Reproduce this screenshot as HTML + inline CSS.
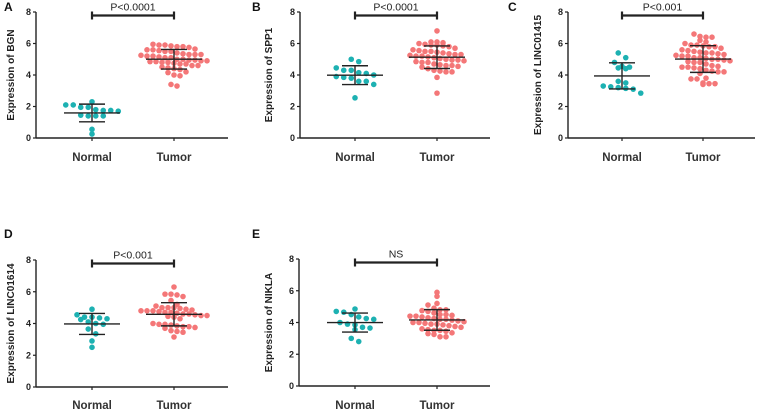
<!DOCTYPE html>
<html><head><meta charset="utf-8"><style>
html,body{margin:0;padding:0;background:#fff}
svg{display:block;font-family:"Liberation Sans",Arial,sans-serif}
</style></head><body>
<svg id="fig" width="760" height="416" viewBox="0 0 760 416"></svg>
<script>
const groupNames = ["Normal", "Tumor"];
const yTicks = [0, 2, 4, 6, 8];
const genes = ["BGN", "SPP1", "LINC01415", "LINC01614", "NIKLA"];
const panelLetters = ["A", "B", "C", "D", "E"];
const pLabels = ["P<0.0001", "P<0.0001", "P<0.001", "P<0.001", "NS"];
const normalA = [2.3,2.1,2.1,1.95,1.95,1.8,1.75,1.75,1.7,1.45,1.4,1.4,1.4,0.55,0.25];
const tumorA = [5.95,5.9,5.9,5.85,5.8,5.8,5.75,5.65,5.6,5.6,5.55,5.5,5.5,5.4,5.35,5.3,5.3,5.3,5.25,5.2,5.2,5.15,5.1,5.1,5.0,5.0,4.95,4.95,4.9,4.9,4.85,4.85,4.8,4.8,4.75,4.7,4.7,4.6,4.6,4.5,4.45,4.4,4.35,4.2,4.15,4.0,3.95,3.4,3.3];
const normalB = [5.0,4.85,4.45,4.3,4.3,4.15,4.1,4.0,3.9,3.85,3.8,3.6,3.6,3.4,2.55];
const tumorB = [6.8,6.1,6.1,6.05,6.0,5.95,5.9,5.9,5.85,5.8,5.7,5.6,5.55,5.5,5.5,5.45,5.4,5.35,5.3,5.3,5.25,5.2,5.2,5.15,5.1,5.05,5.0,4.95,4.95,4.9,4.85,4.8,4.8,4.7,4.65,4.6,4.6,4.55,4.5,4.4,4.3,4.25,4.2,4.2,3.85,2.85];
const normalC = [5.4,5.1,4.8,4.55,4.5,4.45,4.4,3.6,3.5,3.3,3.25,3.2,3.15,3.1,2.85];
const tumorC = [6.6,6.45,6.4,6.4,6.2,6.1,6.0,5.9,5.9,5.85,5.8,5.8,5.7,5.6,5.55,5.5,5.45,5.4,5.4,5.35,5.3,5.25,5.2,5.2,5.1,5.1,5.05,5.0,5.0,4.95,4.9,4.85,4.8,4.8,4.7,4.6,4.55,4.5,4.5,4.45,4.4,4.3,4.25,4.2,4.2,4.1,3.8,3.75,3.75,3.5,3.45,3.45,3.4];
const normalD = [4.9,4.55,4.4,4.4,4.35,4.3,4.25,4.1,4.0,3.95,3.65,3.35,2.9,2.5];
const tumorD = [6.3,5.85,5.85,5.8,5.7,5.45,5.2,5.1,5.0,5.0,5.0,4.95,4.9,4.85,4.8,4.8,4.8,4.75,4.7,4.7,4.65,4.6,4.6,4.55,4.5,4.5,4.45,4.4,4.3,4.0,3.95,3.95,3.9,3.85,3.8,3.8,3.75,3.7,3.55,3.5,3.45,3.15];
const normalE = [4.85,4.7,4.65,4.5,4.35,4.25,4.2,4.0,3.9,3.85,3.7,3.65,3.55,3.0,2.8];
const tumorE = [5.9,5.65,5.2,5.1,4.9,4.8,4.8,4.75,4.7,4.6,4.5,4.5,4.45,4.4,4.4,4.35,4.3,4.25,4.2,4.2,4.15,4.1,4.05,4.0,4.0,3.95,3.9,3.9,3.85,3.8,3.75,3.7,3.6,3.55,3.5,3.5,3.45,3.35,3.3,3.25,3.1,3.1];
const normals = [normalA, normalB, normalC, normalD, normalE];
const tumors = [tumorA, tumorB, tumorC, tumorD, tumorE];

const layouts = [
  {ax:36, top:12, bot:138, right:228, gx:[92,174], tx:10, lx:4, ly:11, cy:161},
  {ax:300, top:12, bot:138, right:490, gx:[355,437], tx:268, lx:252, ly:11, cy:161},
  {ax:568, top:12, bot:138, right:755, gx:[622,703], tx:537, lx:508, ly:11, cy:161},
  {ax:36, top:260, bot:387, right:228, gx:[92,174], tx:10, lx:4, ly:238, cy:409},
  {ax:299, top:259, bot:386, right:490, gx:[355,437], tx:268, lx:252, ly:238, cy:409}
];
const NS = "http://www.w3.org/2000/svg";
const svg = document.getElementById("fig");
function mk(tag, attrs, parent){const e=document.createElementNS(NS,tag);for(const k in attrs)e.setAttribute(k,attrs[k]);(parent||svg).appendChild(e);return e;}
const colors = ["#1db1b2", "#f47778"];
const binHeights = [9, 5.8];
const dotGaps = [7.5, 6];

layouts.forEach((L, i) => {
  const g = mk("g", {});
  
  
  const y = v => L.bot - (v / 8) * (L.bot - L.top);
  const ya = mk("line", {x1:L.ax, y1:L.top, x2:L.ax, y2:L.bot, stroke:"#222", "stroke-width":1.4}, g);
  
  
  const xa = mk("line", {x1:L.ax, y1:L.bot, x2:L.right, y2:L.bot, stroke:"#222", "stroke-width":1.4}, g);
  
  
  yTicks.forEach(t => {
    mk("line", {x1:L.ax-3, y1:y(t), x2:L.ax, y2:y(t), stroke:"#222", "stroke-width":1.2}, g);
    const tl = mk("text", {x:L.ax-5, y:y(t)+3.2, "font-size":9, "font-weight":"bold", "text-anchor":"end", fill:"#222"}, g);
    tl.textContent = t;
    
    
  });
  const title = mk("text", {x:0, y:0, transform:`translate(${L.tx+4},${(L.top+L.bot)/2}) rotate(-90)`, "font-size":10, "font-weight":"bold", "text-anchor":"middle", fill:"#222"}, g);
  title.textContent = "Expression of " + genes[i];
  
  
  const letter = mk("text", {x:L.lx, y:L.ly, "font-size":12, "font-weight":"bold", fill:"#111"}, g);
  letter.textContent = panelLetters[i];
  
  
  groupNames.forEach((n, j) => {
    mk("line", {x1:L.gx[j], y1:L.bot, x2:L.gx[j], y2:L.bot+3, stroke:"#222", "stroke-width":1.2}, g);
    const cl = mk("text", {x:L.gx[j], y:L.cy, "font-size":11.5, "font-weight":"bold", "text-anchor":"middle", fill:"#333"}, g);
    cl.textContent = n;
    
    
  });
  const by = L.top + 3.5;
  const br = mk("path", {d:`M${L.gx[0]},${by-4}V${by+4}M${L.gx[0]},${by}H${L.gx[1]}M${L.gx[1]},${by-4}V${by+4}`, stroke:"#222", "stroke-width":2.2, fill:"none"}, g);
  
  
  const pl = mk("text", {x:(L.gx[0]+L.gx[1])/2, y:by-5, "font-size":10.5, "text-anchor":"middle", fill:"#222"}, g);
  pl.textContent = pLabels[i];
  
  
  [normals[i], tumors[i]].forEach((vals, j) => {
    const cx = L.gx[j];
    const bins = {};
    const binH = binHeights[j];
    vals.forEach(v => {
      const b = Math.round(y(v) / binH);
      (bins[b] = bins[b] || []).push(v);
    });
    Object.keys(bins).forEach(b => {
      const arr = bins[b];
      const n = arr.length;
      arr.forEach((v, k) => {
        const off = (k - (n - 1) / 2) * dotGaps[j];
        const c = mk("circle", {cx:cx+off, cy:y(v), r:2.8, fill:colors[j]}, g);
        
        
      });
    });
    const mean = vals.reduce((a,b)=>a+b,0)/vals.length;
    const sd = Math.sqrt(vals.reduce((a,b)=>a+(b-mean)**2,0)/(vals.length-1));
    const eb = mk("path", {d:`M${cx-28},${y(mean)}H${cx+28}M${cx},${y(mean+sd)}V${y(mean-sd)}M${cx-13},${y(mean+sd)}H${cx+13}M${cx-13},${y(mean-sd)}H${cx+13}`, stroke:"#222", "stroke-width":1.4, fill:"none"}, g);
    
    
  });
});
</script>
</body></html>
